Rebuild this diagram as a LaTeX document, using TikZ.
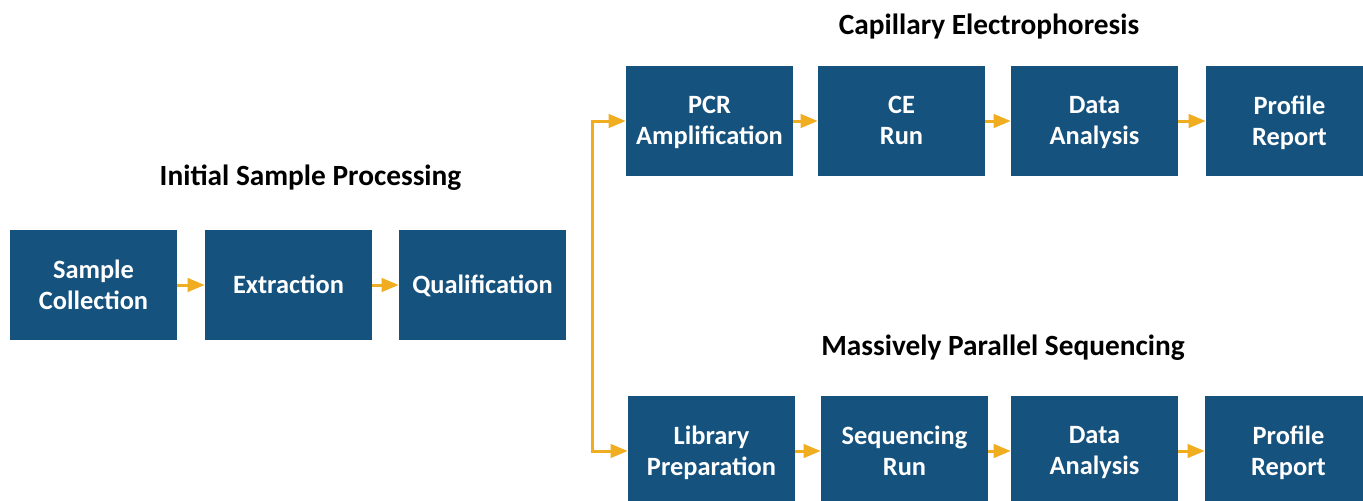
\documentclass[tikz,border=0pt]{standalone}
\usepackage{fontspec}
\setmainfont{Carlito}
\usetikzlibrary{arrows.meta}
\definecolor{boxblue}{RGB}{22,82,126}
\definecolor{flowgold}{RGB}{240,173,32}

\begin{document}
\begin{tikzpicture}[x=0.75pt,y=-0.75pt,
  stage/.style={fill=boxblue,text=white,font=\fontsize{19.8}{23.5}\selectfont\bfseries,align=center,
    text depth=0.08em,minimum width=125.25pt,minimum height=82.5pt,inner sep=0pt},
  heading/.style={font=\fontsize{22}{26}\selectfont\bfseries},
  flow/.style={draw=flowgold,line width=2.25pt,-{Triangle[length=12.75pt,width=10pt]}}]
\useasboundingbox (0,0) rectangle (1363,500);

\node [heading] (initial) at (310.5,178) {Initial Sample Processing};
\node [heading] (capillary) at (989,27) {Capillary Electrophoresis};
\node [heading] (massive) at (1003,348) {Massively Parallel Sequencing};

\node [stage] (sample) at (93.5,285) {Sample\\Collection};
\node [stage] (extract) at (288.5,285) {Extraction};
\node [stage] (qual) at (482.5,285) {Qualification};

\node [stage] (pcr) at (709.5,121) {PCR\\Amplification};
\node [stage] (ceRun) at (901.5,121) {CE\\Run};
\node [stage] (ceData) at (1094.5,121) {Data\\Analysis};
\node [stage] (ceReport) at (1289.5,121) {Profile\\Report};

\node [stage] (lib) at (711.5,451) {Library\\Preparation};
\node [stage] (seqRun) at (904.5,451) {Sequencing\\Run};
\node [stage] (mpsData) at (1094.5,451) {Data\\Analysis};
\node [stage] (mpsReport) at (1288.5,451) {Profile\\Report};

\draw [flow] (sample) -- (extract);
\draw [flow] (extract) -- (qual);

\coordinate (fork) at (592,121);
\draw [flow,{Triangle[length=12.75pt,width=10pt]}-{Triangle[length=12.75pt,width=10pt]}] (pcr.west) -- (fork) |- (lib.west);

\draw [flow] (pcr) -- (ceRun);
\draw [flow] (ceRun) -- (ceData);
\draw [flow] (ceData) -- (ceReport);

\draw [flow] (lib) -- (seqRun);
\draw [flow] (seqRun) -- (mpsData);
\draw [flow] (mpsData) -- (mpsReport);
\end{tikzpicture}
\end{document}
